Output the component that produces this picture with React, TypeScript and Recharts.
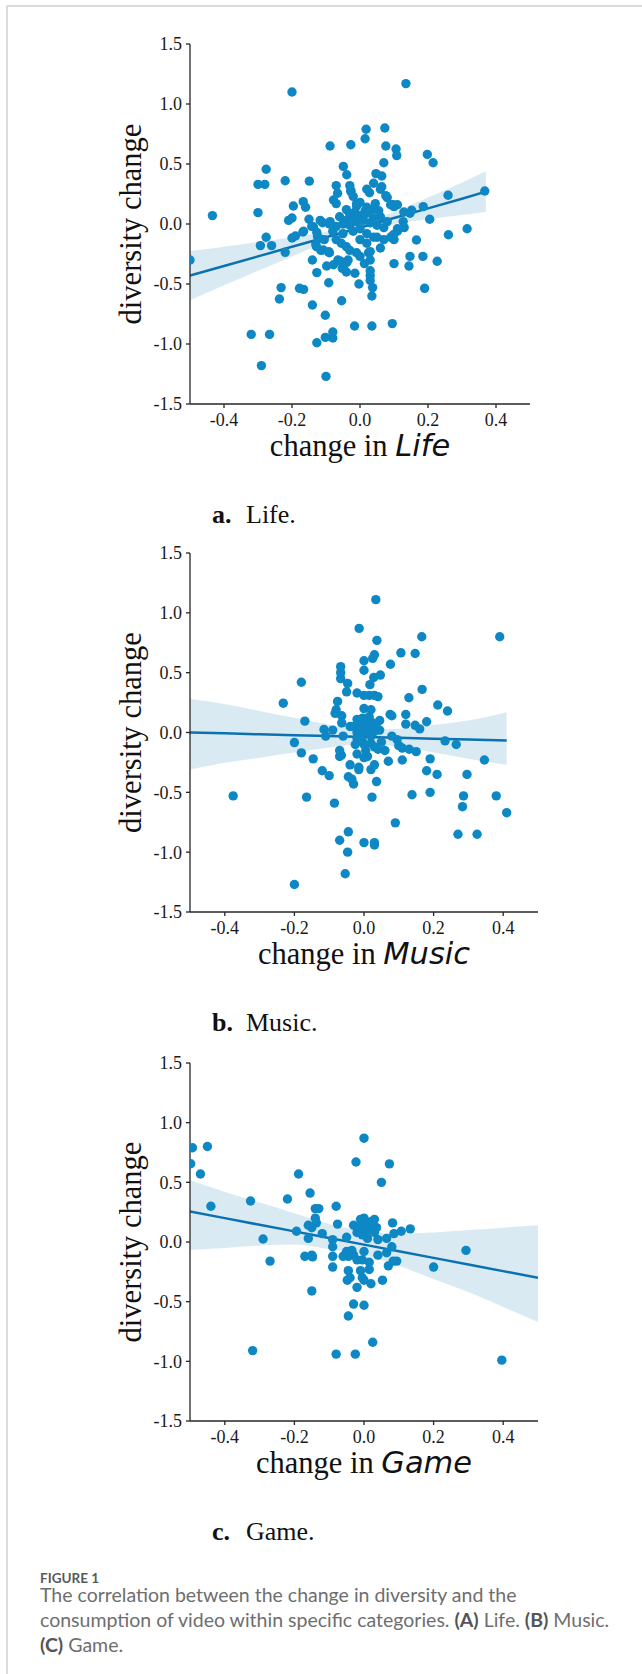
import React from 'react';
import { Area, ComposedChart, Line, Scatter, XAxis, YAxis } from 'recharts';

type Pt = [number, number];

const X_TICKS = [-0.4, -0.2, 0, 0.2, 0.4];
const Y_TICKS = [-1.5, -1, -0.5, 0, 0.5, 1, 1.5];

// (a) Life: change in category vs diversity change
const lifePoints: Pt[] = [
  [-0.2, 1.1], [0.135, 1.17], [0.018, 0.79], [0.073, 0.8], [0.015, 0.71], [-0.088, 0.65],
  [-0.027, 0.66], [0.076, 0.65], [0.106, 0.625], [0.108, 0.57], [0.198, 0.58], [0.215, 0.51],
  [0.07, 0.51], [-0.049, 0.48], [-0.276, 0.456], [-0.039, 0.41], [0.047, 0.42], [0.064, 0.4],
  [-0.22, 0.36], [-0.149, 0.357], [-0.3, 0.33], [-0.28, 0.33], [-0.07, 0.32], [-0.03, 0.32],
  [0.04, 0.34], [0.064, 0.31], [-0.066, 0.256], [-0.027, 0.28], [0.02, 0.29], [0.076, 0.236],
  [0.08, 0.22], [0.259, 0.24], [0.367, 0.275], [-0.196, 0.15], [-0.167, 0.186], [-0.16, 0.14],
  [-0.078, 0.2], [-0.07, 0.17], [-0.02, 0.23], [-0.01, 0.17], [0.098, 0.16], [0.1, 0.145],
  [0.129, 0.1], [0.152, 0.115], [0.147, 0.09], [0.186, 0.145], [0.205, 0.04], [0.315, -0.04],
  [0.26, -0.09], [-0.434, 0.07], [-0.3, 0.095], [-0.21, 0.03], [-0.2, 0.05], [-0.15, 0.04],
  [-0.117, 0.03], [-0.088, 0.02], [-0.142, -0.02], [-0.168, -0.067], [-0.2, -0.117], [-0.276, -0.11],
  [-0.293, -0.18], [-0.26, -0.18], [-0.22, -0.236], [-0.5, -0.3], [-0.127, -0.07], [-0.12, -0.12],
  [-0.13, -0.17], [-0.108, -0.217], [-0.092, -0.23], [-0.14, -0.3], [-0.098, -0.35], [-0.127, -0.405],
  [-0.078, -0.34], [-0.057, -0.31], [-0.052, -0.37], [-0.039, -0.32], [-0.015, -0.41], [0.025, -0.24],
  [0.03, -0.39], [0.03, -0.43], [0.06, -0.2], [0.1, -0.33], [0.1, -0.13], [0.098, -0.09],
  [0.11, -0.04], [0.127, 0.02], [0.166, -0.133], [0.147, -0.27], [0.144, -0.35], [0.185, -0.27],
  [0.227, -0.31], [-0.027, 0.27], [0.028, 0.26], [0.06, 0.29], [0.09, 0.16], [0.11, 0.16],
  [-0.01, 0.15], [0.0, 0.18], [0.02, 0.14], [0.035, 0.12], [0.045, 0.17], [0.055, 0.11],
  [-0.04, 0.12], [-0.03, 0.08], [-0.02, 0.06], [-0.11, 0.01], [-0.09, 0.0], [-0.07, -0.02],
  [-0.05, 0.0], [-0.03, -0.01], [-0.01, 0.02], [0.01, 0.03], [0.03, 0.01], [0.05, -0.01],
  [0.07, -0.03], [-0.137, -0.023], [-0.166, -0.06], [-0.19, -0.1], [-0.125, -0.105], [-0.105, -0.13],
  [-0.128, -0.19], [-0.115, -0.22], [-0.09, -0.24], [-0.07, -0.13], [-0.055, -0.16], [-0.04, -0.19],
  [-0.03, -0.22], [-0.01, -0.24], [0.0, -0.27], [-0.035, -0.3], [-0.065, -0.3], [-0.05, -0.36],
  [-0.04, -0.4], [0.0, -0.13], [0.02, -0.16], [0.04, -0.11], [0.05, -0.11], [0.07, -0.13],
  [0.09, -0.11], [0.11, -0.06], [0.13, -0.03], [0.03, -0.23], [0.03, -0.3], [-0.06, 0.06],
  [-0.04, 0.03], [0.0, 0.07], [0.02, 0.09], [0.04, 0.05], [-0.02, -0.06], [0.0, -0.04],
  [0.02, -0.08], [-0.05, -0.08], [-0.08, -0.06], [0.06, 0.06], [0.08, 0.02], [-0.015, 0.1],
  [0.015, 0.11], [0.013, -0.33], [-0.092, -0.49], [-0.003, -0.5], [0.03, -0.47], [0.037, -0.53],
  [0.035, -0.6], [-0.232, -0.53], [-0.237, -0.625], [-0.178, -0.536], [-0.166, -0.545], [-0.14, -0.675],
  [-0.054, -0.64], [-0.102, -0.76], [0.19, -0.536], [-0.016, -0.85], [0.035, -0.85], [0.095, -0.83],
  [-0.32, -0.92], [-0.266, -0.92], [-0.08, -0.9], [-0.102, -0.945], [-0.08, -0.95], [-0.127, -0.99],
  [-0.29, -1.18], [-0.1, -1.27],
];
const lifeFitX = [-0.5, -0.4, -0.3, -0.2, -0.1, 0, 0.1, 0.2, 0.3, 0.37];
const lifeFitY = [-0.43, -0.35, -0.27, -0.19, -0.11, -0.03, 0.05, 0.13, 0.21, 0.27];
const lifeLow = [-0.635, -0.51, -0.39, -0.27, -0.155, -0.06, 0.0, 0.04, 0.075, 0.1];
const lifeHigh = [-0.225, -0.19, -0.15, -0.11, -0.065, 0.0, 0.1, 0.22, 0.345, 0.44];

// (b) Music
const musicPoints: Pt[] = [
  [0.034, 1.11], [-0.014, 0.87], [0.037, 0.77], [0.166, 0.8], [0.39, 0.8], [0.106, 0.666],
  [0.147, 0.66], [0.03, 0.65], [0.025, 0.62], [0.0, 0.6], [0.076, 0.57], [-0.067, 0.55],
  [-0.067, 0.5], [-0.067, 0.45], [0.0, 0.52], [0.028, 0.46], [0.047, 0.48], [-0.18, 0.42],
  [-0.047, 0.41], [0.017, 0.4], [-0.05, 0.34], [-0.02, 0.33], [0.167, 0.36], [0.0, 0.31],
  [0.015, 0.31], [0.03, 0.31], [0.04, 0.3], [0.129, 0.29], [-0.076, 0.26], [-0.232, 0.245],
  [0.0, 0.2], [0.02, 0.19], [0.212, 0.23], [0.24, 0.18], [-0.08, 0.19], [-0.083, 0.16],
  [-0.064, 0.14], [0.075, 0.15], [0.08, 0.14], [0.12, 0.15], [-0.17, 0.095], [-0.064, 0.08],
  [-0.02, 0.11], [-0.004, 0.12], [0.01, 0.1], [0.025, 0.08], [0.045, 0.1], [0.12, 0.07],
  [0.18, 0.09], [0.147, 0.06], [0.16, 0.03], [-0.115, 0.025], [-0.09, 0.02], [-0.04, 0.05],
  [-0.02, 0.0], [0.0, 0.03], [0.015, -0.01], [0.03, 0.01], [0.045, 0.02], [-0.11, -0.03],
  [-0.2, -0.084], [-0.06, -0.03], [-0.005, -0.07], [0.02, -0.09], [0.05, -0.08], [0.08, -0.03],
  [0.095, -0.06], [0.233, -0.07], [0.265, -0.1], [0.1, -0.11], [0.11, -0.13], [0.13, -0.14],
  [0.15, -0.16], [-0.18, -0.17], [-0.07, -0.15], [0.04, -0.14], [0.06, -0.15], [-0.146, -0.22],
  [-0.07, -0.2], [-0.065, -0.19], [-0.02, -0.18], [0.0, -0.21], [0.01, -0.2], [-0.04, -0.27],
  [-0.015, -0.29], [0.03, -0.27], [0.07, -0.24], [0.11, -0.23], [0.19, -0.22], [0.346, -0.23],
  [-0.12, -0.32], [-0.1, -0.36], [-0.045, -0.37], [-0.035, -0.39], [-0.015, -0.31], [0.02, -0.31],
  [0.18, -0.32], [0.21, -0.35], [0.296, -0.35], [0.036, -0.41], [-0.03, -0.43], [-0.376, -0.53],
  [-0.165, -0.54], [-0.085, -0.59], [0.023, -0.54], [0.138, -0.52], [0.19, -0.5], [0.286, -0.53],
  [0.283, -0.62], [0.38, -0.53], [0.41, -0.67], [0.09, -0.755], [-0.045, -0.83], [-0.07, -0.9],
  [0.0, -0.92], [0.03, -0.92], [0.03, -0.94], [-0.047, -1.0], [-0.054, -1.18], [-0.2, -1.27],
  [0.27, -0.85], [0.325, -0.85], [-0.03, 0.05], [-0.02, -0.05], [-0.01, 0.07], [0.0, -0.1],
  [0.01, 0.04], [0.02, -0.03], [0.03, -0.12], [-0.025, -0.1], [0.005, -0.15], [0.015, 0.13],
  [-0.01, -0.02], [0.035, 0.05],
];
const musicFitX = [-0.5, -0.4, -0.3, -0.2, -0.1, 0, 0.1, 0.2, 0.3, 0.41];
const musicFitY = [0.0, -0.007, -0.015, -0.022, -0.03, -0.037, -0.044, -0.052, -0.059, -0.067];
const musicLow = [-0.31, -0.252, -0.21, -0.167, -0.125, -0.097, -0.119, -0.167, -0.219, -0.27];
const musicHigh = [0.28, 0.238, 0.18, 0.123, 0.065, 0.023, 0.031, 0.063, 0.101, 0.17];

// (c) Game
const gamePoints: Pt[] = [
  [-0.498, 0.656], [-0.493, 0.79], [-0.45, 0.8], [-0.47, 0.57], [-0.44, 0.3], [-0.326, 0.344],
  [-0.29, 0.025], [-0.27, -0.16], [-0.188, 0.57], [-0.22, 0.36], [-0.155, 0.41], [-0.14, 0.28],
  [-0.13, 0.28], [-0.14, 0.2], [-0.137, 0.16], [-0.16, 0.14], [-0.15, 0.12], [-0.194, 0.09],
  [-0.16, 0.03], [-0.12, 0.07], [-0.17, -0.12], [-0.15, -0.11], [-0.148, -0.125], [-0.08, 0.3],
  [-0.076, 0.15], [-0.09, 0.02], [-0.09, -0.04], [-0.09, -0.12], [-0.09, -0.21], [-0.05, 0.04],
  [-0.06, -0.12], [-0.05, -0.08], [-0.045, -0.12], [-0.035, -0.07], [-0.03, -0.11], [-0.045, -0.24],
  [-0.04, -0.3], [-0.15, -0.41], [-0.023, 0.67], [0.0, 0.87], [0.073, 0.655], [0.05, 0.5],
  [-0.03, 0.14], [-0.01, 0.19], [0.005, 0.17], [0.02, 0.17], [0.025, 0.13], [0.015, 0.11],
  [-0.005, 0.09], [-0.02, 0.08], [0.005, 0.07], [0.03, 0.08], [-0.005, 0.06], [0.036, 0.12],
  [0.01, 0.03], [0.04, 0.02], [0.065, 0.03], [0.082, 0.16], [0.086, 0.07], [0.107, 0.09],
  [0.133, 0.11], [0.08, -0.04], [0.065, -0.09], [0.07, -0.2], [0.084, -0.16], [0.094, -0.16],
  [0.04, -0.11], [0.0, -0.08], [-0.005, -0.15], [-0.01, -0.24], [-0.005, -0.3], [0.015, -0.23],
  [0.015, -0.17], [-0.02, -0.15], [-0.02, -0.38], [0.02, -0.35], [0.053, -0.32], [0.2, -0.21],
  [0.293, -0.07], [-0.048, -0.32], [0.0, -0.32], [-0.03, -0.52], [0.0, -0.53], [-0.045, -0.62],
  [0.025, -0.84], [-0.32, -0.91], [-0.08, -0.94], [-0.025, -0.94], [0.396, -0.99], [0.0, 0.12],
  [0.01, 0.15], [-0.015, 0.12], [0.03, 0.19], [0.0, 0.2],
];
const gameFitX = [-0.5, -0.4, -0.3, -0.2, -0.1, 0, 0.1, 0.2, 0.3, 0.4, 0.5];
const gameFitY = [0.255, 0.2, 0.144, 0.089, 0.033, -0.022, -0.078, -0.133, -0.189, -0.244, -0.3];
const gameLow = [-0.067, -0.05, -0.03, -0.02, -0.06, -0.11, -0.2, -0.31, -0.42, -0.545, -0.67];
const gameHigh = [0.517, 0.42, 0.33, 0.24, 0.15, 0.09, 0.07, 0.08, 0.1, 0.12, 0.14];

const DOT = '#0e88c5';
const LINE = '#0a72b1';
const AXIS = '#262626';
const SERIF = '"Liberation Serif", "Times New Roman", serif';
const CAPTION_FONT = 'Lato, "Open Sans", sans-serif';

interface PanelProps {
  plotTop: number;
  plotBottom: number;
  plotRight: number;
  points: Pt[];
  fitX: number[];
  fitY: number[];
  low: number[];
  high: number[];
}

const Dot = (props: { cx?: number; cy?: number }) => (
  <circle cx={props.cx} cy={props.cy} r={4.7} fill={DOT} />
);

function Panel({ plotTop, plotBottom, plotRight, points, fitX, fitY, low, high }: PanelProps) {
  const data = fitX.map((x, i) => ({ x, fit: fitY[i], band: [low[i], high[i]] }));
  const pts = points.map(([x, y]) => ({ x, y }));
  const marginTop = 20;
  const height = marginTop + (plotBottom - plotTop) + 40;
  const tick = { fill: '#1a1a1a', fontSize: 18, fontFamily: SERIF };
  return (
    <div style={{ position: 'absolute', left: 0, top: plotTop - marginTop }}>
      <ComposedChart
        width={642}
        height={height}
        data={data}
        margin={{ top: marginTop, right: 642 - plotRight, bottom: 0, left: 130 }}
      >
        <XAxis
          type="number"
          dataKey="x"
          domain={[-0.5, 0.5]}
          ticks={X_TICKS}
          interval={0}
          allowDataOverflow
          tickFormatter={(v: number) => v.toFixed(1)}
          height={40}
          tickSize={4}
          tickMargin={5}
          stroke={AXIS}
          strokeWidth={1.3}
          tick={tick}
        />
        <YAxis
          type="number"
          dataKey="y"
          domain={[-1.5, 1.5]}
          ticks={Y_TICKS}
          interval={0}
          allowDataOverflow
          tickFormatter={(v: number) => v.toFixed(1)}
          width={60}
          tickSize={4}
          tickMargin={4}
          stroke={AXIS}
          strokeWidth={1.3}
          tick={tick}
        />
        <Scatter data={pts} shape={Dot} isAnimationActive={false} />
        <Area
          dataKey="band"
          type="monotone"
          fill={LINE}
          fillOpacity={0.15}
          stroke="none"
          isAnimationActive={false}
        />
        <Line
          dataKey="fit"
          type="linear"
          stroke={LINE}
          strokeWidth={2.5}
          dot={false}
          isAnimationActive={false}
        />
      </ComposedChart>
    </div>
  );
}

const panels = [
  { plotTop: 44, plotBottom: 404, plotRight: 530, cx: 360, points: lifePoints, fitX: lifeFitX, fitY: lifeFitY, low: lifeLow, high: lifeHigh, name: 'Life', letter: 'a.' },
  { plotTop: 553, plotBottom: 912, plotRight: 538, cx: 364, points: musicPoints, fitX: musicFitX, fitY: musicFitY, low: musicLow, high: musicHigh, name: 'Music', letter: 'b.' },
  { plotTop: 1063, plotBottom: 1421, plotRight: 538, cx: 364, points: gamePoints, fitX: gameFitX, fitY: gameFitY, low: gameLow, high: gameHigh, name: 'Game', letter: 'c.' },
];

export default function App() {
  return (
    <div style={{ position: 'absolute', left: 0, top: 0, width: 642, height: 1674, background: '#fff', overflow: 'hidden' }}>
      {panels.map((p) => (
        <Panel key={p.name} {...p} />
      ))}
      <svg width={642} height={1674} style={{ position: 'absolute', left: 0, top: 0, pointerEvents: 'none' }}>
        <line x1={7} y1={6} x2={642} y2={6} stroke="#cfcfcf" strokeWidth={1.5} />
        <line x1={7} y1={6} x2={7} y2={1674} stroke="#cfcfcf" strokeWidth={1.5} />
        {panels.map((p) => {
          const midY = (p.plotTop + p.plotBottom) / 2;
          return (
            <g key={p.name} fill="#111">
              <text
                x={141}
                y={midY}
                transform={`rotate(-90 141 ${midY})`}
                textAnchor="middle"
                fontFamily={SERIF}
                fontSize={30.5}
              >
                diversity change
              </text>
              <text x={p.cx} y={p.plotBottom + 52} textAnchor="middle" fontSize={30.5} style={{ whiteSpace: 'pre' }}>
                <tspan fontFamily={SERIF}>change in </tspan>
                <tspan fontFamily='"DejaVu Sans", sans-serif' fontStyle="italic">{p.name}</tspan>
              </text>
              <text x={212} y={p.plotBottom + 119} fontFamily={SERIF} fontSize={26} fontWeight="bold">
                {p.letter}
              </text>
              <text x={246} y={p.plotBottom + 119} fontFamily={SERIF} fontSize={26}>
                {p.name}.
              </text>
            </g>
          );
        })}
        <g fontFamily={CAPTION_FONT} fill="#6e6e6e" style={{ whiteSpace: 'pre' }}>
          <text x={40} y={1583} fontSize={13.5} fontWeight="bold" fill="#5a5a5a">
            FIGURE 1
          </text>
          <text x={40} y={1602} fontSize={19.5}>
            The correlation between the change in diversity and the
          </text>
          <text x={40} y={1627} fontSize={19.5}>
            consumption of video within specific categories.{' '}
            <tspan fontWeight="bold" fill="#555">(A)</tspan> Life.{' '}
            <tspan fontWeight="bold" fill="#555">(B)</tspan> Music.
          </text>
          <text x={40} y={1652} fontSize={19.5}>
            <tspan fontWeight="bold" fill="#555">(C)</tspan> Game.
          </text>
        </g>
      </svg>
    </div>
  );
}
